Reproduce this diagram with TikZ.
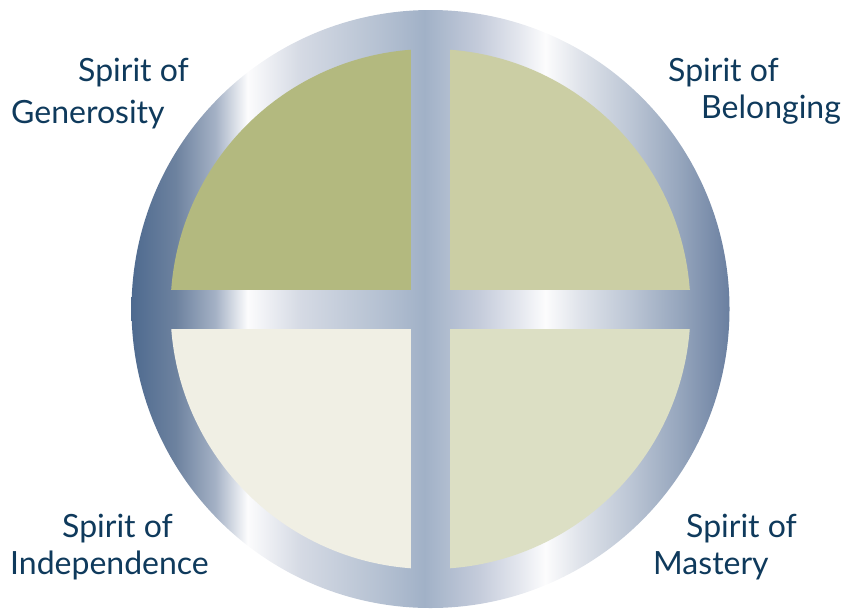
\documentclass[tikz,border=0pt]{standalone}
\usepackage{fontspec}
\setmainfont{Lato}
\usetikzlibrary{positioning}

\definecolor{labelnavy}{HTML}{0F3A5C}
\definecolor{ringA}{HTML}{4E6A8F}
\definecolor{ringB}{HTML}{6D829F}
\definecolor{ringC}{HTML}{A4B1C5}
\definecolor{ringD}{HTML}{FCFCFD}
\definecolor{ringE}{HTML}{D5DAE4}
\definecolor{ringF}{HTML}{B5C1D2}
\definecolor{ringG}{HTML}{A1B1C7}
\definecolor{ringH}{HTML}{C5CCDB}
\definecolor{ringI}{HTML}{E5E8EF}
\definecolor{ringJ}{HTML}{FCFCFD}
\definecolor{ringK}{HTML}{DFE3EA}
\definecolor{ringL}{HTML}{BCC6D5}
\definecolor{ringM}{HTML}{96A6BD}
\definecolor{ringN}{HTML}{6A7FA0}
\definecolor{gener}{HTML}{B3B97F}
\definecolor{belong}{HTML}{CBCEA4}
\definecolor{indep}{HTML}{F0EFE4}
\definecolor{master}{HTML}{DCDFC4}

\pgfdeclarehorizontalshading{ringshade}{100bp}{color(0bp)=(ringA); color(25bp)=(ringA);
  color(28.7bp)=(ringB); color(32bp)=(ringC); color(34.7bp)=(ringD); color(39.1bp)=(ringE);
  color(45.8bp)=(ringF); color(49.5bp)=(ringG); color(54.1bp)=(ringH); color(57.5bp)=(ringI);
  color(59.6bp)=(ringJ); color(62.5bp)=(ringK); color(66.7bp)=(ringL); color(70.8bp)=(ringM);
  color(75bp)=(ringN); color(100bp)=(ringN)}

\begin{document}
\begin{tikzpicture}[
  x=1pt, y=-1pt,
  spirit/.style={anchor=base west, inner sep=0pt, font=\fontsize{32}{36}\selectfont, text=labelnavy},
  quad/.style={draw=none}
]
  \useasboundingbox (0,0) rectangle (850,608);
  \coordinate (c) at (430.5,309);

  % Ring and cross
  \shade[shading=ringshade] (c) circle (299);

  % Quadrants
  \begin{scope}
    \clip (c) circle (260);
    \fill[quad, gener]  ([shift={(-19.5,-19.5)}]c) rectangle ([shift={(-270,-270)}]c);
    \fill[quad, belong] ([shift={(19.5,-19.5)}]c)  rectangle ([shift={(270,-270)}]c);
    \fill[quad, indep]  ([shift={(-19.5,19.5)}]c)  rectangle ([shift={(-270,270)}]c);
    \fill[quad, master] ([shift={(19.5,19.5)}]c)   rectangle ([shift={(270,270)}]c);
  \end{scope}

  % Labels
  \node[spirit] (gen1) at (78,81) {Spirit of};
  \node[spirit] (gen2) at (11,123) {Generosity};
  \node[spirit] (bel1) at (668,81) {Spirit of};
  \node[spirit] (bel2) at (701,118) {Belonging};
  \node[spirit] (ind1) at (62,537) {Spirit of};
  \node[spirit] (ind2) at (10,574) {Independence};
  \node[spirit] (mas1) at (686,537) {Spirit of};
  \node[spirit] (mas2) at (653,574) {Mastery};
\end{tikzpicture}
\end{document}
